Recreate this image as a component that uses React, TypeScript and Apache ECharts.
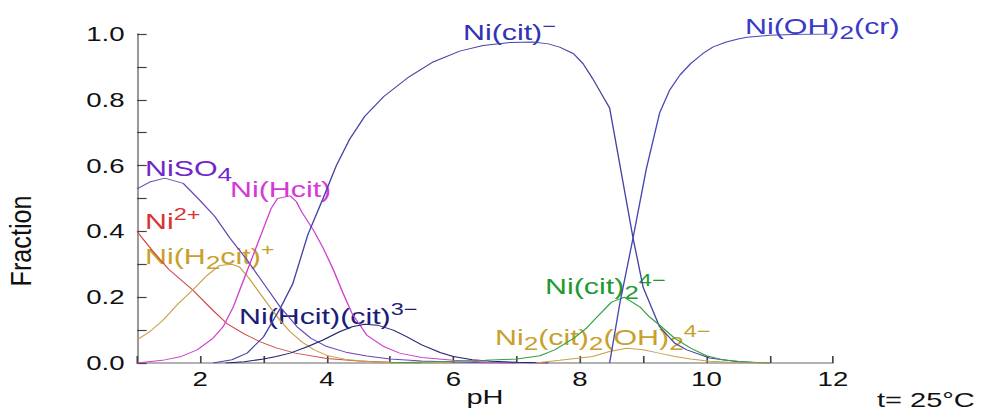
import React, { useEffect, useRef } from "react";
import * as echarts from "echarts";

// horizontal stretch of the reference picture
const STRETCH = 1.38;
const W = 711;
const H = 410;
const FONT = "'Liberation Sans', Arial, Helvetica, sans-serif";

const xTickLabels = ["2", "4", "6", "8", "10", "12"];
const yTickLabels = ["0.0", "0.2", "0.4", "0.6", "0.8", "1.0"];

// [pH, fraction]
const niSO4: [number, number][] = [
  [1, 0.529], [1.2, 0.55], [1.44, 0.562], [1.73, 0.546], [1.99, 0.495], [2.23, 0.445],
  [2.47, 0.379], [2.74, 0.313], [3.0, 0.242], [3.26, 0.171], [3.53, 0.11], [3.75, 0.075],
  [4.0, 0.05], [4.3, 0.033], [4.63, 0.021], [5.0, 0.012], [5.5, 0.006], [6.0, 0.003],
  [6.5, 0.001], [7.0, 0],
];
const ni2: [number, number][] = [
  [1, 0.4], [1.25, 0.34], [1.5, 0.285], [1.88, 0.222], [2.2, 0.16], [2.42, 0.12],
  [2.7, 0.088], [2.94, 0.065], [3.2, 0.046], [3.5, 0.03], [4.0, 0.014], [4.5, 0.006],
  [5.0, 0.002], [5.5, 0],
];
const niH2cit: [number, number][] = [
  [1, 0.07], [1.2, 0.095], [1.41, 0.13], [1.65, 0.18], [1.88, 0.222], [2.1, 0.265],
  [2.3, 0.296], [2.5, 0.3], [2.62, 0.292], [2.76, 0.26], [2.93, 0.215], [3.1, 0.17],
  [3.26, 0.13], [3.42, 0.095], [3.6, 0.065], [3.8, 0.04], [4.0, 0.023], [4.3, 0.011],
  [4.7, 0.004], [5.2, 0.001], [6, 0],
];
const niHcit: [number, number][] = [
  [1, 0], [1.4, 0.008], [1.7, 0.02], [1.95, 0.04], [2.2, 0.075], [2.36, 0.11],
  [2.52, 0.17], [2.68, 0.25], [2.85, 0.335], [3.0, 0.41], [3.12, 0.47], [3.22, 0.5],
  [3.42, 0.508], [3.52, 0.49], [3.6, 0.46], [3.8, 0.4], [3.94, 0.35], [4.1, 0.285],
  [4.25, 0.215], [4.4, 0.15], [4.63, 0.085], [4.9, 0.05], [5.15, 0.03], [5.5, 0.017],
  [6.0, 0.008], [6.5, 0.003], [7.0, 0.001], [7.5, 0],
];
const niHcitCit: [number, number][] = [
  [2.4, 0], [2.7, 0.004], [3.0, 0.012], [3.2, 0.02], [3.42, 0.03], [3.7, 0.05],
  [3.94, 0.07], [4.2, 0.095], [4.4, 0.11], [4.6, 0.118], [4.8, 0.115], [5.05, 0.1],
  [5.26, 0.08], [5.5, 0.055], [5.79, 0.032], [6.0, 0.02], [6.3, 0.01], [6.6, 0.005],
  [7.0, 0.002], [7.5, 0],
];
const niCit: [number, number][] = [
  [2.2, 0], [2.5, 0.01], [2.74, 0.03], [3.0, 0.08], [3.26, 0.165], [3.46, 0.24],
  [3.7, 0.39], [3.94, 0.5], [4.15, 0.6], [4.36, 0.68], [4.6, 0.75], [4.9, 0.81],
  [5.3, 0.87], [5.68, 0.915], [6.1, 0.948], [6.47, 0.965], [6.9, 0.974], [7.26, 0.976],
  [7.5, 0.97], [7.68, 0.96], [7.9, 0.94], [8.05, 0.91], [8.2, 0.865], [8.35, 0.815],
  [8.47, 0.775], [8.84, 0.38], [9.0, 0.23], [9.26, 0.11], [9.5, 0.06], [9.69, 0.04],
  [10.05, 0.015], [10.5, 0.004], [11, 0],
];
const niCit2: [number, number][] = [
  [5.0, 0], [5.5, 0.003], [6.0, 0.005], [6.5, 0.008], [7.0, 0.012], [7.37, 0.022],
  [7.6, 0.04], [7.9, 0.075], [8.1, 0.105], [8.27, 0.14], [8.5, 0.185], [8.7, 0.2],
  [8.95, 0.17], [9.1, 0.14], [9.26, 0.115], [9.5, 0.075], [9.75, 0.045], [10.0, 0.022],
  [10.25, 0.01], [10.5, 0.005], [10.8, 0.001], [11, 0],
];
const ni2Cit2OH2: [number, number][] = [
  [7.3, 0], [7.68, 0.008], [8.0, 0.015], [8.2, 0.02], [8.47, 0.035], [8.74, 0.045],
  [9.0, 0.04], [9.25, 0.03], [9.5, 0.02], [9.75, 0.012], [10.05, 0.005], [10.5, 0.001],
  [11, 0],
];
const niOH2: [number, number][] = [
  [8.47, 0], [8.63, 0.18], [8.84, 0.38], [9.05, 0.59], [9.26, 0.76], [9.42, 0.83],
  [9.58, 0.875], [9.75, 0.91], [9.94, 0.94], [10.1, 0.96], [10.3, 0.975], [10.5, 0.985],
  [10.64, 0.99], [11, 0.996], [11.5, 0.999], [12, 1.0],
];

const seriesDefs = [
  { name: "NiSO4", data: niSO4, color: "#6c48b4" },
  { name: "Ni2+", data: ni2, color: "#d24a4a" },
  { name: "Ni(H2cit)+", data: niH2cit, color: "#c9a24c" },
  { name: "Ni(Hcit)", data: niHcit, color: "#d040d0" },
  { name: "Ni(Hcit)(cit)3-", data: niHcitCit, color: "#22226e" },
  { name: "Ni(cit)-", data: niCit, color: "#4444a4" },
  { name: "Ni(cit)2 4-", data: niCit2, color: "#34a044" },
  { name: "Ni2(cit)2(OH)2 4-", data: ni2Cit2OH2, color: "#c9a24c" },
  { name: "Ni(OH)2(cr)", data: niOH2, color: "#4848b4" },
];

// label anchor: left edge (pH) and cap top (fraction)
const labelDefs = [
  { text: "{m|NiSO}{sub|4}", color: "#7028c8", ph: 1.126, frac: 0.62 },
  { text: "{m|Ni(Hcit)}", color: "#d63ad6", ph: 2.47, frac: 0.556 },
  { text: "{m|Ni}{sup|2+}", color: "#d83636", ph: 1.126, frac: 0.459 },
  { text: "{m|Ni(H}{sub|2}{m|cit)}{sup|+}", color: "#c9a02c", ph: 1.126, frac: 0.353 },
  { text: "{m|Ni(Hcit)(cit)}{sup|3\u2212}", color: "#1c1c78", ph: 2.612, frac: 0.17 },
  { text: "{m|Ni(cit)}{sup|\u2212}", color: "#3232b4", ph: 6.152, frac: 1.033 },
  { text: "{m|Ni(OH)}{sub|2}{m|(cr)}", color: "#3a3ac8", ph: 10.61, frac: 1.052 },
  { text: "{m|Ni(cit)}{sub|2}{sup|4\u2212}", color: "#1e9a30", ph: 7.449, frac: 0.261 },
  { text: "{m|Ni}{sub|2}{m|(cit)}{sub|2}{m|(OH)}{sub|2}{sup|4\u2212}", color: "#c9a02c", ph: 6.658, frac: 0.106 },
];

export default function App() {
  const ref = useRef<HTMLDivElement>(null);

  useEffect(() => {
    if (!ref.current) return;
    const chart = echarts.init(ref.current, null, { renderer: "svg" });
    const axisLine = { show: true, lineStyle: { color: "#9a9a9a", width: 1.5 } };
    chart.setOption({
      animation: false,
      backgroundColor: "#ffffff",
      grid: {
        left: 99.3,
        right: 107.4,
        top: 34,
        bottom: 47,
        containLabel: false,
        outerBoundsMode: "none",
      },
      xAxis: {
        type: "value",
        min: 1,
        max: 12,
        interval: 1,
        axisLine,
        axisTick: { show: true, inside: true, length: 7, lineStyle: { color: "#444", width: 1.2 } },
        splitLine: { show: false },
        axisLabel: {
          formatter: (v: number) => (xTickLabels.includes(String(v)) ? String(v) : ""),
          fontSize: 20,
          color: "#111",
          fontFamily: FONT,
          margin: 6,
        },
        name: "pH",
        nameLocation: "middle",
        nameGap: 23,
        nameMoveOverlap: false,
        nameTextStyle: { fontSize: 21, lineHeight: 21, color: "#111", fontFamily: FONT },
      },
      yAxis: {
        type: "value",
        min: 0,
        max: 1,
        interval: 0.1,
        axisLine,
        axisTick: { show: true, inside: true, length: 7, lineStyle: { color: "#444", width: 1.2 } },
        splitLine: { show: false },
        axisLabel: {
          formatter: (v: number) => {
            const s = v.toFixed(1);
            return yTickLabels.includes(s) ? s : "";
          },
          fontSize: 20,
          color: "#111",
          fontFamily: FONT,
          margin: 9,
        },
      },
      series: seriesDefs.map((s) => ({
        name: s.name,
        type: "line",
        data: s.data,
        showSymbol: false,
        symbol: "none",
        silent: true,
        lineStyle: { color: s.color, width: 1 },
        itemStyle: { color: s.color },
      })),
    });

    const graphics: any[] = labelDefs.map((l) => {
      const p = chart.convertToPixel({ gridIndex: 0 }, [l.ph, l.frac]) as number[];
      return {
        type: "text",
        x: p[0],
        y: p[1] - 6.3,
        silent: true,
        style: {
          text: l.text,
          align: "left",
          verticalAlign: "top",
          fill: l.color,
          rich: {
            m: { fontSize: 22, lineHeight: 31, fontFamily: FONT, fill: l.color, color: l.color },
            sub: { fontSize: 19, lineHeight: 19, verticalAlign: "bottom", fontFamily: FONT, fill: l.color, color: l.color },
            sup: { fontSize: 17, lineHeight: 17, verticalAlign: "top", fontFamily: FONT, fill: l.color, color: l.color },
          },
        },
      };
    });
    graphics.push({
      type: "text",
      x: 21 / STRETCH,
      y: 241,
      rotation: Math.PI / 2,
      scaleX: 1.2,
      silent: true,
      style: {
        text: "Fraction",
        align: "center",
        verticalAlign: "middle",
        fontSize: 21,
        fontFamily: FONT,
        fill: "#111",
      },
    });
    graphics.push({
      type: "text",
      x: 877 / STRETCH,
      y: 399.5,
      silent: true,
      style: {
        text: "t= 25\u00b0C",
        align: "left",
        verticalAlign: "middle",
        fontSize: 21,
        lineHeight: 18,
        fontFamily: FONT,
        fill: "#111",
      },
    });
    chart.setOption({ graphic: graphics });

    return () => chart.dispose();
  }, []);

  return (
    <div
      style={{
        position: "fixed",
        left: 0,
        top: 0,
        width: 981,
        height: 410,
        overflow: "hidden",
        background: "#fff",
      }}
    >
      <div
        ref={ref}
        style={{ width: W, height: H, transform: `scaleX(${STRETCH})`, transformOrigin: "0 0" }}
      />
    </div>
  );
}
